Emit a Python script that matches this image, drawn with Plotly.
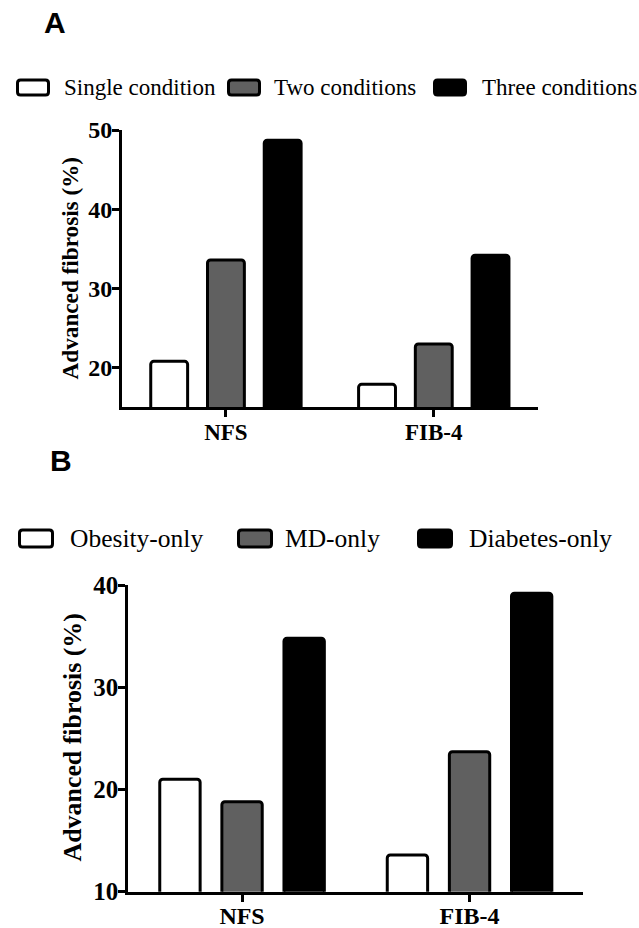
import plotly.graph_objects as go

W, H = 639, 928

# ---------------- data ----------------
groups = ["NFS", "FIB-4"]

series_a = ["Single condition", "Two conditions", "Three conditions"]
single_condition = [20.8, 17.9]
two_conditions = [33.6, 23.0]
three_conditions = [48.7, 34.2]

series_b = ["Obesity-only", "MD-only", "Diabetes-only"]
obesity_only = [21.0, 13.6]
md_only = [18.8, 23.7]
diabetes_only = [34.8, 39.2]

y_ticks_a = [20, 30, 40, 50]
y_ticks_b = [10, 20, 30, 40]
y_range_a = [15, 50]
y_range_b = [10, 40]
y_title = "Advanced fibrosis (%)"
panel_labels = ["A", "B"]

# ---------------- style ----------------
fills = ["#ffffff", "#606060", "#000000"]
SERIF = "Liberation Serif"
SANS = "Liberation Sans"


def px(x):
    return x / W


def py(y):
    return 1 - y / H


fig = go.Figure()

panel_a_vals = [single_condition, two_conditions, three_conditions]
panel_b_vals = [obesity_only, md_only, diabetes_only]

for name, vals, col in zip(series_a, panel_a_vals, fills):
    fig.add_trace(go.Bar(
        x=groups, y=vals, name=name, xaxis="x", yaxis="y",
        marker=dict(color=col, line=dict(color="black", width=3), cornerradius=3),
        showlegend=False, hoverinfo="skip"))

for name, vals, col in zip(series_b, panel_b_vals, fills):
    fig.add_trace(go.Bar(
        x=groups, y=vals, name=name, xaxis="x2", yaxis="y2",
        marker=dict(color=col, line=dict(color="black", width=3), cornerradius=3),
        showlegend=False, hoverinfo="skip"))

axis_common = dict(showline=True, linecolor="black", linewidth=3,
                   ticks="outside", ticklen=7, tickwidth=3, tickcolor="black",
                   showgrid=False, zeroline=False, automargin=False)

fig.update_layout(
    template="none",
    width=W, height=H, autosize=False,
    margin=dict(l=0, r=0, t=0, b=0, pad=0, autoexpand=False),
    paper_bgcolor="white", plot_bgcolor="white",
    barmode="group", bargap=0.181, bargroupgap=0.35,
    xaxis=dict(domain=[px(122), px(537.7)], anchor="y", type="category",
               range=[-0.5, 1.5], ticklabelstandoff=-5,
               tickfont=dict(family=SERIF, size=23, color="black", weight="bold"),
               **axis_common),
    yaxis=dict(domain=[py(407.3), py(130)], anchor="x", range=y_range_a,
               tickvals=y_ticks_a, ticklabelstandoff=-5,
               tickfont=dict(family=SERIF, size=24, color="black", weight="bold"),
               **axis_common),
    xaxis2=dict(domain=[px(128.3), px(583.3)], anchor="y2", type="category",
                range=[-0.5, 1.5], ticklabelstandoff=-7,
                tickfont=dict(family=SERIF, size=24, color="black", weight="bold"),
                **axis_common),
    yaxis2=dict(domain=[py(891.7), py(585)], anchor="x2", range=y_range_b,
                tickvals=y_ticks_b, ticklabelstandoff=-5,
                tickfont=dict(family=SERIF, size=25, color="black", weight="bold"),
                **axis_common),
)


def rounded_rect(x0, y0, x1, y1, r):
    # pixel coords -> paper path with rounded corners
    rx, ry = r / W, r / H
    X0, X1 = px(x0), px(x1)
    Yt, Yb = py(y0), py(y1)
    return (f"M{X0+rx},{Yt} L{X1-rx},{Yt} Q{X1},{Yt} {X1},{Yt-ry} "
            f"L{X1},{Yb+ry} Q{X1},{Yb} {X1-rx},{Yb} L{X0+rx},{Yb} "
            f"Q{X0},{Yb} {X0},{Yb+ry} L{X0},{Yt-ry} Q{X0},{Yt} {X0+rx},{Yt} Z")


legend_specs = [
    dict(names=series_a, sym_x=[17.5, 228.5, 434.5], sym_w=31, sym_h=15,
         yc=87.5, text_x=[62, 272, 480], size=23),
    dict(names=series_b, sym_x=[19.5, 238.5, 418.5], sym_w=33, sym_h=17,
         yc=538.5, text_x=[68, 283, 467], size=25.5),
]

shapes = []
annotations = []
for spec in legend_specs:
    for name, sx, tx, col in zip(spec["names"], spec["sym_x"], spec["text_x"], fills):
        y0 = spec["yc"] - spec["sym_h"] / 2
        y1 = spec["yc"] + spec["sym_h"] / 2
        shapes.append(dict(type="path", xref="paper", yref="paper",
                           path=rounded_rect(sx, y0, sx + spec["sym_w"], y1, 3),
                           fillcolor=col, line=dict(color="black", width=3)))
        annotations.append(dict(text=name, x=px(tx), y=py(spec["yc"]),
                                xref="paper", yref="paper", xanchor="left",
                                yanchor="middle", showarrow=False,
                                font=dict(family=SERIF, size=spec["size"], color="black")))

# y-axis titles
for yc, xc, size in [(268.4, 70, 23.2), (737.5, 72, 25.9)]:
    annotations.append(dict(text=y_title, x=px(xc), y=py(yc), xref="paper", yref="paper",
                            xanchor="center", yanchor="middle", textangle=-90,
                            showarrow=False,
                            font=dict(family=SERIF, size=size, color="black", weight="bold")))

# panel letters
for lab, (xc, yc) in zip(panel_labels, [(55, 23), (61, 461)]):
    annotations.append(dict(text=lab, x=px(xc), y=py(yc), xref="paper", yref="paper",
                            xanchor="center", yanchor="middle", showarrow=False,
                            font=dict(family=SANS, size=30, color="black", weight="bold")))

fig.update_layout(shapes=shapes, annotations=annotations)

fig.write_html("out.html", config={"displayModeBar": False},
               post_script="document.body.style.margin='0';")
